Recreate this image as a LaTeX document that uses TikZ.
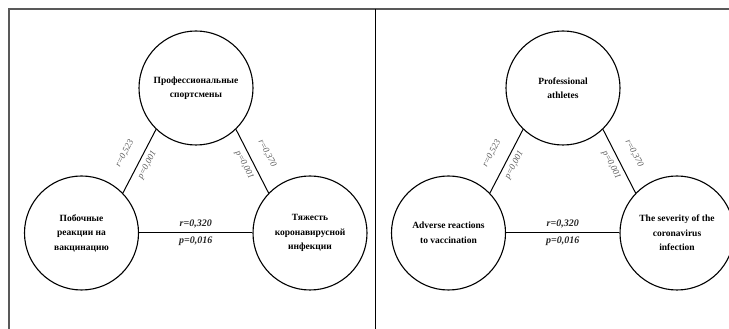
\documentclass[tikz,border=0pt]{standalone}
\usepackage{fontspec}
\setmainfont{Liberation Serif}

\begin{document}
\begin{tikzpicture}[x=1pt,y=1pt,
  every node/.style={font=\fontsize{9.5}{14}\selectfont},
  factor/.style={draw,circle,line width=1.1pt,minimum size=114pt,inner sep=0pt,align=center,
    font=\fontsize{9.5}{14.5}\selectfont\bfseries},
  link/.style={line width=1pt},
  coef/.style={font=\fontsize{9}{10}\selectfont\itshape,text=black!65,inner sep=1.5pt},
  coefb/.style={font=\fontsize{10}{11}\selectfont\itshape\bfseries,text=black!85,inner sep=1.5pt},
  frame/.style={draw=black!65,line width=1.3pt},
  divider/.style={draw=black,line width=1pt}]

\useasboundingbox (0,0) rectangle (729,329);
\clip (0,0) rectangle (729,329);

% panel frame
\draw[frame] (9,0) -- (9,320) -- (729,320);
\draw[divider] (375,320) -- (375,0);

% left panel
\node[factor] (ruProf) at (196,241) {Профессиональные\\спортсмены};
\node[factor] (ruSide) at (81.5,96) {Побочные\\реакции на\\вакцинацию};
\node[factor] (ruSev) at (310,96) {Тяжесть\\коронавирусной\\инфекции};

\draw[link] (ruSide.44) -- (ruProf.226)
  node[coef,midway,sloped,above=11pt] {r=0,523}
  node[coef,midway,sloped,below=3pt] {p=0,001};
\draw[link] (ruProf.314) -- (ruSev.136)
  node[coef,midway,sloped,above=11pt] {r=0,370}
  node[coef,midway,sloped,below=3pt] {p=0,001};
\draw[link] (ruSide) -- (ruSev)
  node[coefb,midway,above=3pt] {r=0,320}
  node[coefb,midway,below=2pt] {p=0,016};

% right panel, same layout
\begin{scope}[xshift=367]
\node[factor] (enProf) at (196,241) {Professional\\athletes};
\node[factor] (enAdv) at (81.5,96) {Adverse reactions\\to vaccination};
\node[factor] (enSev) at (310,96) {The severity of the\\coronavirus\\infection};

\draw[link] (enAdv.44) -- (enProf.226)
  node[coef,midway,sloped,above=11pt] {r=0,523}
  node[coef,midway,sloped,below=3pt] {p=0,001};
\draw[link] (enProf.314) -- (enSev.136)
  node[coef,midway,sloped,above=11pt] {r=0,370}
  node[coef,midway,sloped,below=3pt] {p=0,001};
\draw[link] (enAdv) -- (enSev)
  node[coefb,midway,above=3pt] {r=0,320}
  node[coefb,midway,below=2pt] {p=0,016};
\end{scope}

\end{tikzpicture}
\end{document}
